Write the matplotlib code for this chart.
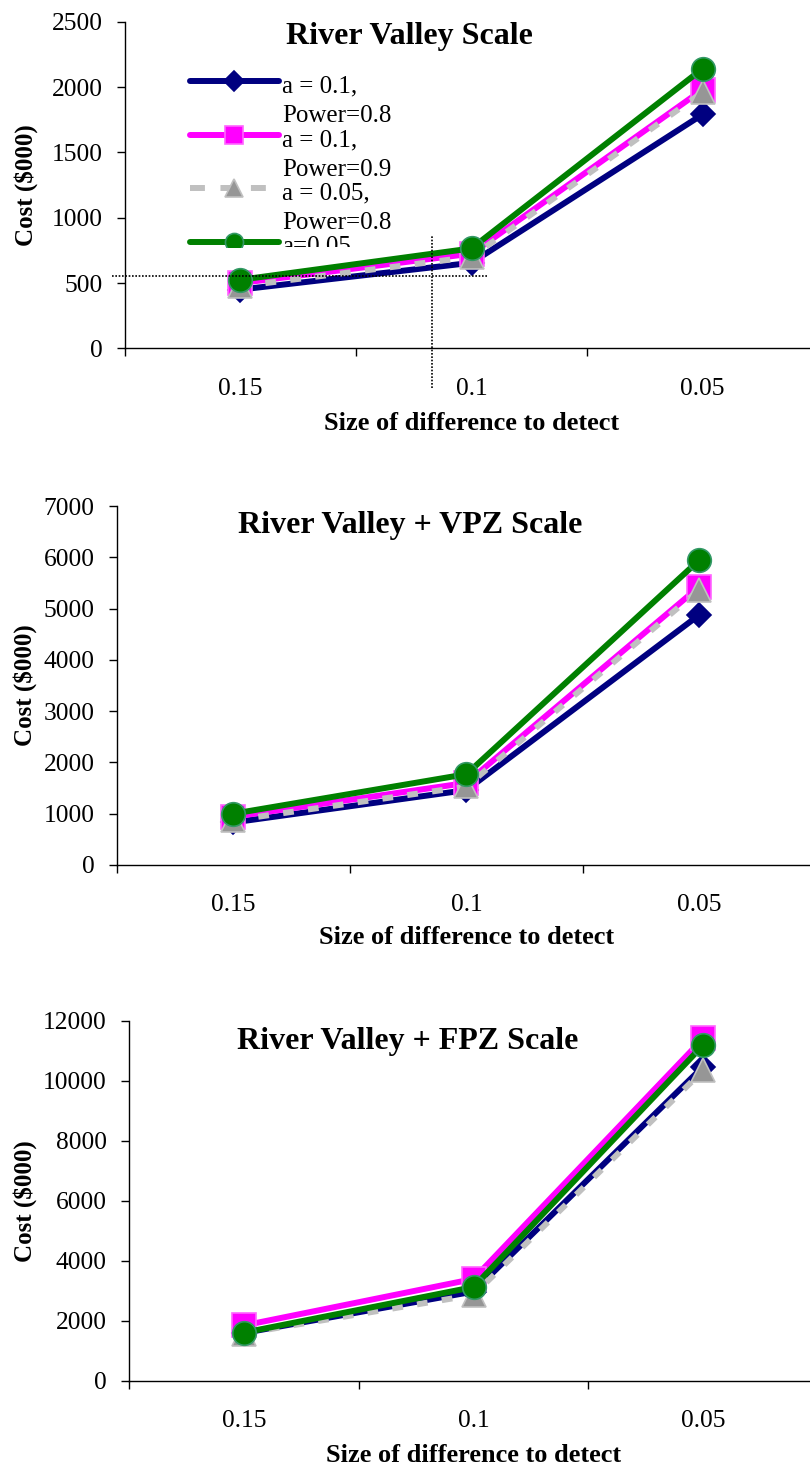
import matplotlib
matplotlib.use("Agg")
import matplotlib.pyplot as plt
from matplotlib.transforms import Bbox, TransformedBbox

plt.rcParams['font.family'] = ['Liberation Serif', 'DejaVu Serif']

# categories on the x axis (size of difference to detect)
categories = ['0.15', '0.1', '0.05']

# series labels
labels = ['a = 0.1,\nPower=0.8', 'a = 0.1,\nPower=0.9',
          'a = 0.05,\nPower=0.8', 'a=0.05,\nPower=0.9']

# cost ($000): blue, magenta, gray, green
rv_blue = [450, 655, 1790]
rv_magenta = [500, 725, 1980]
rv_gray = [475, 700, 1960]
rv_green = [525, 765, 2140]

vpz_blue = [830, 1460, 4880]
vpz_magenta = [940, 1600, 5430]
vpz_gray = [870, 1530, 5370]
vpz_green = [1000, 1770, 5950]

fpz_blue = [1600, 2980, 10480]
fpz_magenta = [1850, 3400, 11420]
fpz_gray = [1580, 2870, 10350]
fpz_green = [1610, 3130, 11200]

titles = ['River Valley Scale', 'River Valley + VPZ Scale', 'River Valley + FPZ Scale']
ymax = [2500, 7000, 12000]
ystep = [500, 1000, 2000]

# dotted guide lines in the first panel
guide_cost = 552
guide_x = 0.83

# line styles: colour, marker, marker face, marker edge, dashed?
styles = [
    dict(color='#000080', marker='D', mfc='#000080', mec='#000080', ms=12, lms=10, dash=False),
    dict(color='#FF00FF', marker='s', mfc='#FF00FF', mec='#FF66FF', ms=17, lms=13, dash=False),
    dict(color='#C0C0C0', marker='^', mfc='#969696', mec='#C0C0C0', ms=17, lms=13, dash=True),
    dict(color='#008000', marker='o', mfc='#008000', mec='#339966', ms=17, lms=13, dash=False),
]

fig = plt.figure(figsize=(8.1, 14.68), dpi=100)

# axes rectangles in figure fractions
rects = [[0.1543, 0.7627, 0.8556, 0.2225],
         [0.1444, 0.4108, 0.8630, 0.2445],
         [0.1593, 0.0593, 0.8506, 0.2452]]
title_pos = [(0.411, 0.932), (0.419, 0.925), (0.405, 0.922)]
ylabel_x = [-0.143, -0.132, -0.151]
xlabel_y = [-0.229, -0.203, -0.206]

panels = [[rv_blue, rv_magenta, rv_gray, rv_green],
          [vpz_blue, vpz_magenta, vpz_gray, vpz_green],
          [fpz_blue, fpz_magenta, fpz_gray, fpz_green]]

xs = list(range(len(categories)))

axes = []
for i, series in enumerate(panels):
    ax = fig.add_axes(rects[i])
    axes.append(ax)
    for vals, st in zip(series, styles):
        line, = ax.plot(xs, vals, color=st['color'], lw=4.3,
                        marker=st['marker'], markersize=st['ms'],
                        markerfacecolor=st['mfc'], markeredgecolor=st['mec'],
                        markeredgewidth=1.2, solid_capstyle='round',
                        solid_joinstyle='round', clip_on=False)
        if st['dash']:
            line.set_dashes((1.8, 2.4))
            line.set_dash_capstyle('butt')

    ax.set_xlim(-0.5, 2.5)
    ax.set_ylim(0, ymax[i])
    ax.set_yticks(range(0, ymax[i] + 1, ystep[i]))
    ax.set_xticks([-0.5, 0.5, 1.5, 2.5])
    ax.set_xticklabels([])
    ax.set_xticks(xs, minor=True)
    ax.set_xticklabels(categories, minor=True)
    ax.tick_params(axis='x', which='major', length=6, width=1, direction='out')
    ax.tick_params(axis='x', which='minor', length=0, pad=21, labelsize=18.4)
    ax.tick_params(axis='y', length=6, width=1, direction='out', pad=10, labelsize=18.4)

    for side in ['top', 'right']:
        ax.spines[side].set_visible(False)
    for side in ['left', 'bottom']:
        ax.spines[side].set_linewidth(1)

    ax.text(title_pos[i][0], title_pos[i][1], titles[i], transform=ax.transAxes,
            ha='center', va='baseline', fontsize=23, fontweight='bold')
    ax.set_ylabel('Cost ($000)', fontsize=18, fontweight='bold', va='center')
    ax.yaxis.set_label_coords(ylabel_x[i], 0.5)
    ax.set_xlabel('Size of difference to detect', fontsize=19, fontweight='bold', va='center')
    ax.xaxis.set_label_coords(0.5, xlabel_y[i])

# dotted guide lines on the first panel
ax1 = axes[0]
ax1.plot([-0.556, 1.07], [guide_cost, guide_cost], color='black', lw=1.2,
         ls=(0, (1, 1)), clip_on=False, zorder=5)
ax1.plot([guide_x, guide_x], [-304, 860], color='black', lw=1.2,
         ls=(0, (1, 1)), clip_on=False, zorder=5)

# hand-built legend in the first panel, cut off at the bottom like the original
clip_box = TransformedBbox(Bbox([[0, 0.3117], [1, 1]]), ax1.transAxes)
x0, x1, xm, xt = 0.0938, 0.2222, 0.158, 0.2265
for k, (lab, st) in enumerate(zip(labels, styles)):
    yh = 0.819 - 0.1646 * k
    hl, = ax1.plot([x0, x1], [yh, yh], transform=ax1.transAxes, color=st['color'],
                   lw=4.3, solid_capstyle='round', zorder=6)
    if st['dash']:
        hl.set_dashes((2.5, 2.6))
        hl.set_dash_capstyle('butt')
    hm, = ax1.plot([xm], [yh], transform=ax1.transAxes, ls='none', marker=st['marker'],
                   markersize=st['lms'], markerfacecolor=st['mfc'],
                   markeredgecolor=st['mec'], markeredgewidth=1.2, zorder=7)
    for art in (hl, hm):
        art.set_clip_box(clip_box)
        art.set_clip_on(True)
    for j, part in enumerate(lab.split('\n')):
        yb = 0.782 - 0.1632 * k - 0.0903 * j
        t = ax1.text(xt, yb, part, transform=ax1.transAxes, ha='left', va='baseline',
                     fontsize=18, zorder=8)
        t.set_clip_box(clip_box)
        t.set_clip_on(True)

fig.savefig('out.png', dpi=100)
